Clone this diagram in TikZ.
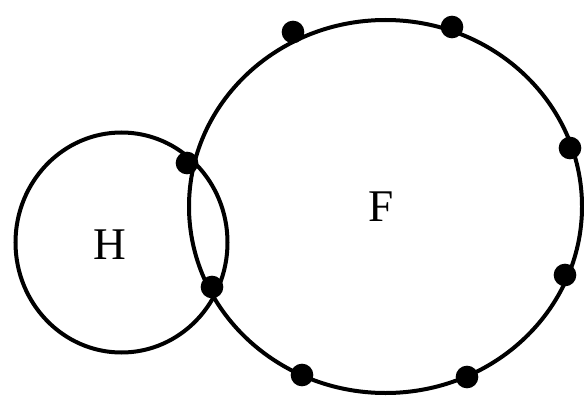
\documentclass[tikz,border=0pt]{standalone}
\usepackage{fontspec}
\setmainfont{Liberation Serif}
\usepackage{tikz}
\usetikzlibrary{positioning,calc}

\begin{document}
\begin{tikzpicture}[x=0.75pt, y=-0.75pt, ring/.style={line width=3pt}, dot/.style={circle, fill=black, inner sep=0pt, minimum size=17pt}, lbl/.style={font=\fontsize{34}{34}\selectfont}]

	\useasboundingbox (0,0) rectangle (584,399);

	% the two rings
	\coordinate (hc) at (121.5,242.5);
	\coordinate (fc) at (385.5,206.5);
	\draw[ring] (hc) ellipse [x radius=106, y radius=110];
	\draw[ring] (fc) ellipse [x radius=196.5, y radius=186.5];

	\node[lbl, shift = {(110.0, 245.0)}] (h_lbl) {H};
	\node[lbl, shift = {(381.0, 207.0)}] (f_lbl) {F};

	% points on F
	\node[dot, shift = {(293.0, 32.0)}] (p_a) {};
	\node[dot, shift = {(452.0, 27.0)}] (p_b) {};
	\node[dot, shift = {(570.0, 148.0)}] (p_c) {};
	\node[dot, shift = {(565.0, 275.0)}] (p_d) {};
	\node[dot, shift = {(467.0, 377.0)}] (p_e) {};
	\node[dot, shift = {(302.0, 375.0)}] (p_f) {};

	% where H meets F
	\node[dot, shift = {(187.0, 163.0)}] (p_g) {};
	\node[dot, shift = {(212.0, 287.0)}] (p_h) {};

\end{tikzpicture}
\end{document}
